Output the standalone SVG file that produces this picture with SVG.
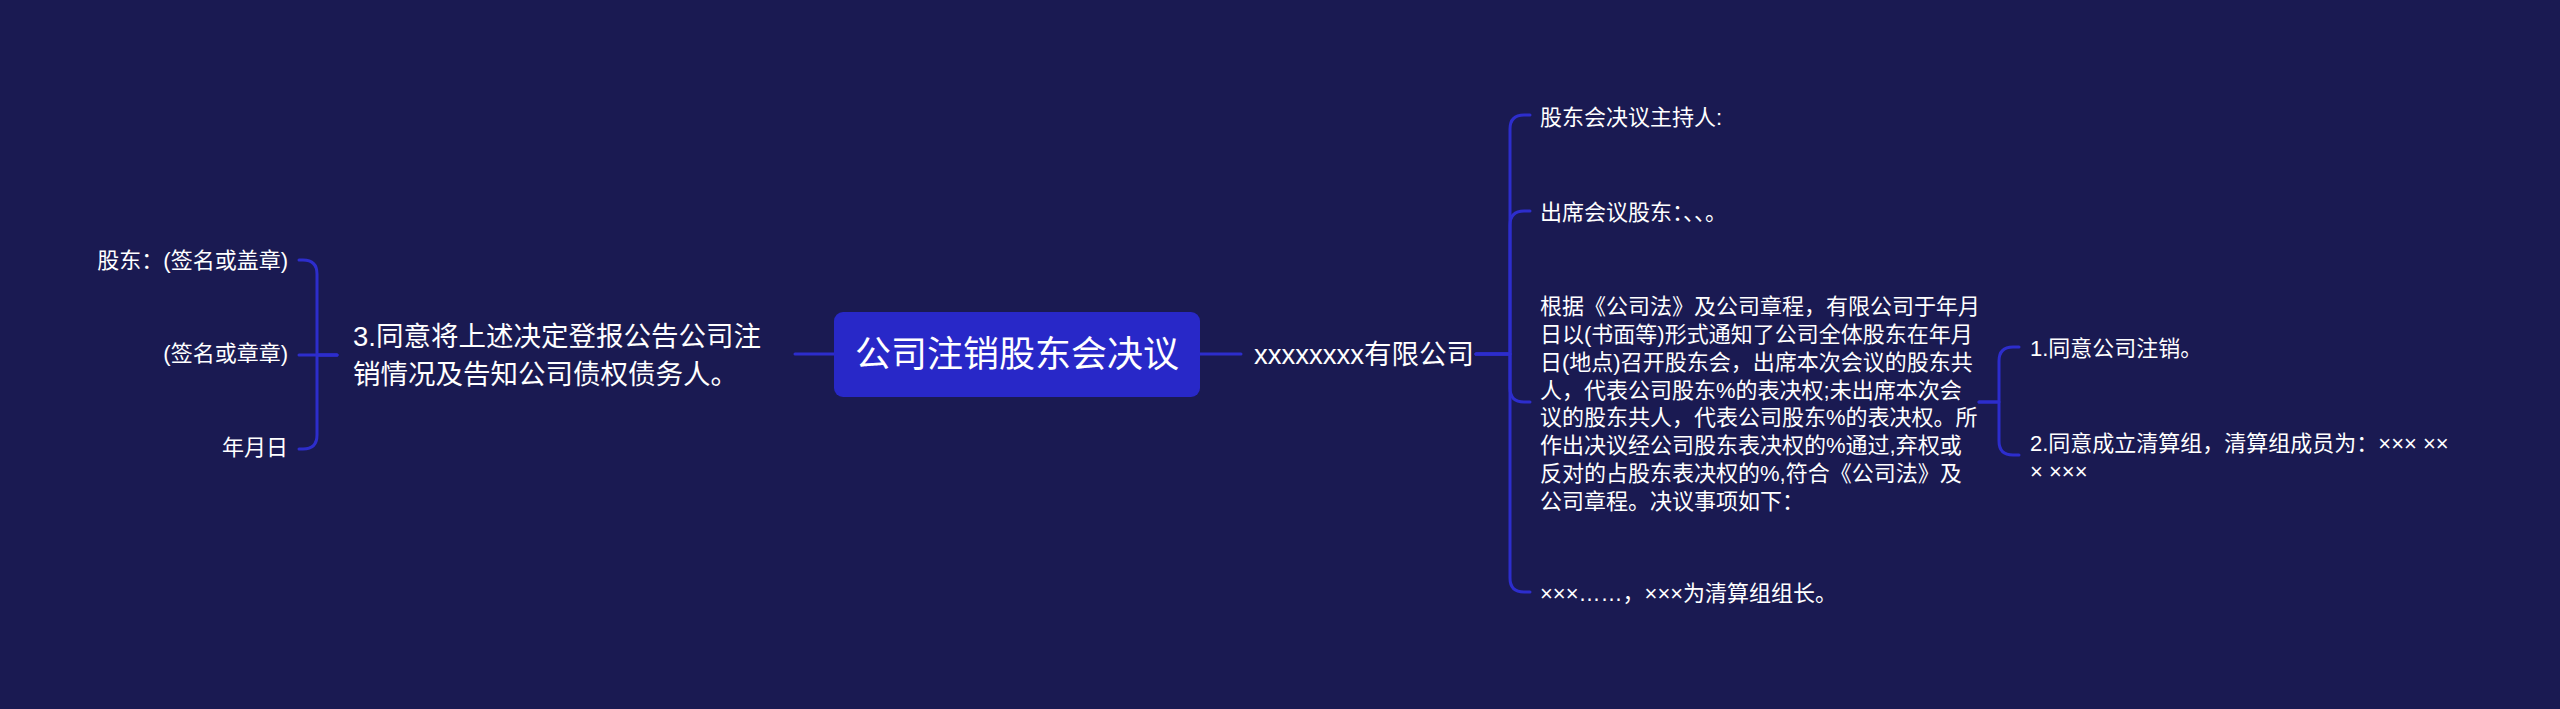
<svg xmlns="http://www.w3.org/2000/svg" width="2560" height="709" viewBox="0 0 2560 709">
<style>
.t{font-family:"Liberation Sans","Noto Sans CJK SC",sans-serif;fill:#ffffff}
.s{font-size:22px}
.m{font-size:27.5px}
.c{fill:none;stroke:#2d2dcc;stroke-width:3;stroke-linecap:round;stroke-linejoin:round}
</style>
<rect x="0" y="0" width="2560" height="709" fill="#1a1a52"/>
<g id="connectors">
<path class="c" d="M1200,354 H1241"/>
<path class="c" d="M795,354 H834"/>
<path class="c" d="M337,355 H317 V274 Q317,260 303,260 H299"/>
<path class="c" d="M337,355 H299"/>
<path class="c" d="M337,355 H317 V435 Q317,449 303,449 H299"/>
<path class="c" d="M1476,354 H1510 V129 Q1510,115 1524,115 H1530"/>
<path class="c" d="M1476,354 H1510 V225 Q1510,211 1524,211 H1530"/>
<path class="c" d="M1476,354 H1510 V388 Q1510,402 1524,402 H1530"/>
<path class="c" d="M1476,354 H1510 V578 Q1510,592 1524,592 H1530"/>
<path class="c" d="M1979,402 H1999 V361 Q1999,347 2013,347 H2019"/>
<path class="c" d="M1979,402 H1999 V441 Q1999,455 2013,455 H2019"/>
</g>
<g id="root">
<rect x="834" y="312" width="366" height="85" rx="9" fill="#2828c8"/>
<text class="t" x="1017" y="367" font-size="36" text-anchor="middle">公司注销股东会决议</text>
</g>
<g id="company">
<text class="t m" x="1254" y="364">xxxxxxxx有限公司</text>
</g>
<g id="left-node">
<text class="t m" x="353" y="346">3.同意将上述决定登报公告公司注</text>
<text class="t m" x="353" y="384">销情况及告知公司债权债务人。</text>
</g>
<g id="sign1"><text class="t s" x="288" y="268" text-anchor="end">股东：(签名或盖章)</text></g>
<g id="sign2"><text class="t s" x="288" y="361" text-anchor="end">(签名或章章)</text></g>
<g id="date"><text class="t s" x="288" y="455" text-anchor="end">年月日</text></g>
<g id="host"><text class="t s" x="1540" y="125">股东会决议主持人:</text></g>
<g id="attend"><text class="t s" x="1540" y="220">出席会议股东：、、。</text></g>
<g id="para">
<text class="t s" x="1540" y="314">根据《公司法》及公司章程，有限公司于年月</text>
<text class="t s" x="1540" y="342">日以(书面等)形式通知了公司全体股东在年月</text>
<text class="t s" x="1540" y="370">日(地点)召开股东会，出席本次会议的股东共</text>
<text class="t s" x="1540" y="398">人，代表公司股东%的表决权;未出席本次会</text>
<text class="t s" x="1540" y="425">议的股东共人，代表公司股东%的表决权。所</text>
<text class="t s" x="1540" y="453">作出决议经公司股东表决权的%通过,弃权或</text>
<text class="t s" x="1540" y="481">反对的占股东表决权的%,符合《公司法》及</text>
<text class="t s" x="1540" y="509">公司章程。决议事项如下：</text>
</g>
<g id="leader"><text class="t s" x="1540" y="601">×××……，×××为清算组组长。</text></g>
<g id="item1"><text class="t s" x="2030" y="356">1.同意公司注销。</text></g>
<g id="item2">
<text class="t s" x="2030" y="451">2.同意成立清算组，清算组成员为：××× ××</text>
<text class="t s" x="2030" y="479">× ×××</text>
</g>
</svg>
